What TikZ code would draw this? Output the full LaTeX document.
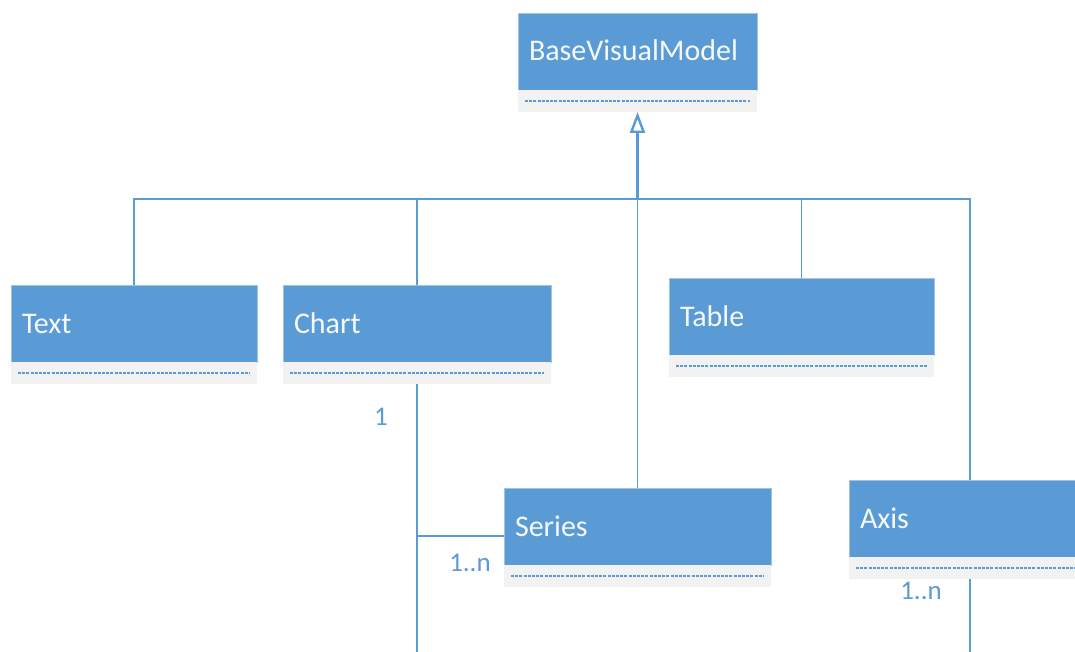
\documentclass[tikz,border=0pt]{standalone}
\usepackage{fontspec}
\setmainfont{Carlito}
\usepackage{tikz}
\usetikzlibrary{positioning}
\usetikzlibrary{arrows.meta}
\usepackage{xcolor}
\definecolor{ColA}{RGB}{91,155,213}
\definecolor{ColB}{RGB}{242,242,242}
\definecolor{ColC}{RGB}{157,195,230}
\tikzset{ClassBox/.style={anchor=north west,fill=ColA,draw=ColC,line width=.6pt,text=white!94!ColA,
text width=#1,inner xsep=11pt,inner ysep=0pt,minimum height=77pt,text height=19pt,text depth=0pt,
outer sep=0pt,align=left,font=\fontsize{30}{34}\selectfont}}
\tikzset{ClassStrip/.style={fill=ColB,minimum width=#1,minimum height=22pt,inner sep=0pt,outer sep=0pt,
path picture={\draw[ColA,line width=1.3pt,dash pattern=on 3pt off 1.2pt]
([xshift=7pt]path picture bounding box.west)--([xshift=-7pt]path picture bounding box.east);}}}
\tikzstyle{EdgeClass}=[ColA,line width=1.5pt]
\tikzstyle{Mult}=[ColA,inner sep=0pt,font=\fontsize{27}{32}\selectfont]

\begin{document}
\begin{tikzpicture}[x=1pt,y=-1pt]
        \useasboundingbox(0,0)rectangle(1075,652);
        \node[ClassBox=217pt](BaseBox)at(518,13){BaseVisualModel};
        \node[ClassStrip=239pt,below=0pt of BaseBox](BaseStrip){};
        \node[ClassBox=224pt](TextBox)at(11,285){Text};
        \node[ClassStrip=246pt,below=0pt of TextBox](TextStrip){};
        \node[ClassBox=246pt](ChartBox)at(283,285){Chart};
        \node[ClassStrip=268pt,below=0pt of ChartBox](ChartStrip){};
        \node[ClassBox=243pt](TableBox)at(669,278){Table};
        \node[ClassStrip=265pt,below=0pt of TableBox](TableStrip){};
        \node[ClassBox=245pt](SeriesBox)at(504,488){Series};
        \node[ClassStrip=267pt,below=0pt of SeriesBox](SeriesStrip){};
        \node[ClassBox=220pt](AxisBox)at(849,480){Axis};
        \node[ClassStrip=242pt,below=0pt of AxisBox](AxisStrip){};
        \coordinate(Bus)at(637.5,199);
        \coordinate(ChartEnd)at(417,652);
        \coordinate(AxisEnd)at(970,652);
        \draw[EdgeClass](TextBox.north)|-(Bus)-|(AxisBox.north);
        \draw[EdgeClass,line width=2.6pt](TextBox.north)--(TextBox.north|-Bus);
        \draw[EdgeClass](ChartBox.north)--(ChartBox.north|-Bus);
        \draw[EdgeClass](TableBox.north)--(TableBox.north|-Bus);
        \draw[EdgeClass](SeriesBox.north)--(Bus);
        \draw[EdgeClass,line width=2.4pt,-{Triangle[open,length=21pt,width=15pt,fill=white]}](Bus)--(BaseStrip.south);
        \draw[EdgeClass](ChartStrip.south)--(ChartEnd);
        \draw[EdgeClass]([yshift=-9.5pt]SeriesBox.west)--([yshift=-9.5pt]SeriesBox.west-|ChartEnd);
        \draw[EdgeClass](AxisStrip.south)--(AxisEnd);
        \node[Mult](MultChart)at(381,417){1};
        \node[Mult](MultSeries)at(470,563){1..n};
        \node[Mult](MultAxis)at(921,591){1..n};
    \end{tikzpicture}
\end{document}
